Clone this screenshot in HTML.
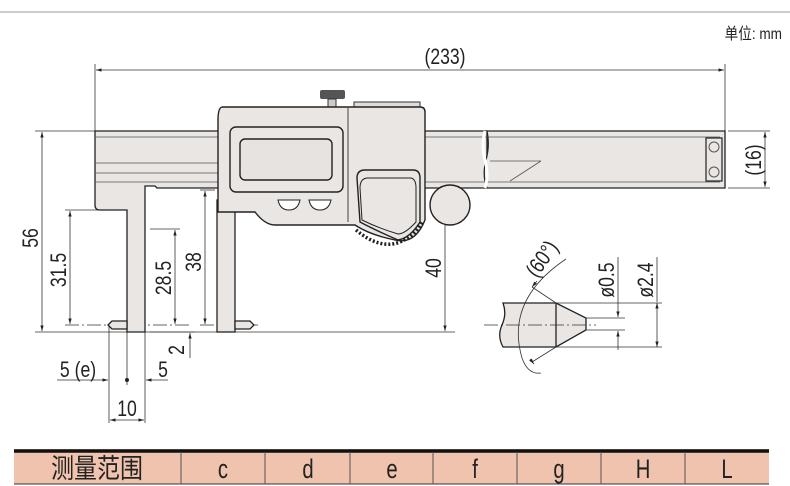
<!DOCTYPE html>
<html><head><meta charset="utf-8"><style>
html,body{margin:0;padding:0;background:#fff;}
svg{display:block;}
text{font-family:"Liberation Sans","Noto Sans CJK SC",sans-serif;fill:#222;}
</style></head><body>
<svg width="790" height="486" viewBox="0 0 790 486" xmlns="http://www.w3.org/2000/svg">
<defs>
<marker id="a" viewBox="0 0 10 10" refX="10" refY="5" markerWidth="7" markerHeight="7" orient="auto-start-reverse"><path d="M0,2 L10,5 L0,8 z" fill="#222"/></marker>
</defs>
<line x1="0" y1="12" x2="790" y2="12" stroke="#bbb" stroke-width="1.5"/>
<text transform="translate(782,39) scale(0.85,1)" font-size="16" text-anchor="end">单位: mm</text>

<g stroke="#333" stroke-width="0.8" fill="none">
<line x1="95" y1="64" x2="95" y2="131"/><line x1="725" y1="64" x2="725" y2="131"/>
<line x1="96" y1="70" x2="724" y2="70" marker-start="url(#a)" marker-end="url(#a)"/>
<line x1="35" y1="131" x2="95" y2="131"/>
<line x1="35" y1="332" x2="455" y2="332"/>
<line x1="65" y1="210" x2="127" y2="210"/>
<line x1="65" y1="325" x2="190" y2="325" stroke-dasharray="14,3,2,3"/>
<line x1="150" y1="229" x2="180" y2="229"/>
<line x1="200" y1="190" x2="215" y2="190"/>
<line x1="200" y1="325" x2="260" y2="325" stroke-dasharray="14,3,2,3"/>
<line x1="42" y1="132" x2="42" y2="331" marker-start="url(#a)" marker-end="url(#a)"/>
<line x1="70" y1="211" x2="70" y2="324" marker-start="url(#a)" marker-end="url(#a)"/>
<line x1="175" y1="230" x2="175" y2="324" marker-start="url(#a)" marker-end="url(#a)"/>
<line x1="205" y1="191" x2="205" y2="324" marker-start="url(#a)" marker-end="url(#a)"/>
<line x1="445" y1="192" x2="445" y2="331" marker-start="url(#a)" marker-end="url(#a)"/>
<line x1="728" y1="131" x2="770" y2="131"/><line x1="728" y1="188" x2="770" y2="188"/>
<line x1="765" y1="132" x2="765" y2="187" marker-start="url(#a)" marker-end="url(#a)"/>
<line x1="109" y1="326" x2="109" y2="423"/><line x1="127" y1="332" x2="127" y2="385"/><line x1="145" y1="332" x2="145" y2="423"/>
<line x1="57" y1="380" x2="108" y2="380" marker-end="url(#a)"/>
<line x1="168" y1="380" x2="146" y2="380" marker-end="url(#a)"/>
<line x1="110" y1="420" x2="144" y2="420" marker-start="url(#a)" marker-end="url(#a)"/>
<line x1="190" y1="358" x2="190" y2="333" marker-end="url(#a)"/>
<line x1="150" y1="332" x2="195" y2="332"/>
</g>
<circle cx="127" cy="380" r="2" fill="#222"/>

<g stroke="#222" stroke-width="1.3" fill="#e9e6e4">
<path d="M95,131 H487 V188 H157 L155,186 H145 V332 H127 V210 H100 Q95,210 95,205 Z"/>
<path d="M108,325 L112,321 H127 V329 H112 Z"/>
<rect x="217" y="200" width="18" height="132"/>
<path d="M235,321 H250 L254,325 L250,329 H235 Z"/>
<path d="M487,131 H725 V188 H487 Q482,175 486,160 Q490,145 487,131 Z"/>
</g>
<g stroke="#555" stroke-width="0.8" fill="none">
<line x1="95" y1="137" x2="720" y2="137"/><line x1="95" y1="163" x2="218" y2="163"/>
<line x1="95" y1="173" x2="218" y2="173"/><line x1="95" y1="182" x2="720" y2="182"/>
<line x1="490" y1="161" x2="541" y2="161"/><line x1="510" y1="181" x2="541" y2="161"/>
</g>
<rect x="706" y="138" width="16" height="43" fill="#e9e6e4" stroke="#222" stroke-width="1.2"/>
<circle cx="714" cy="147" r="5" fill="none" stroke="#555"/><circle cx="714" cy="172" r="5" fill="none" stroke="#555"/>
<path d="M485,131 Q481,145 485,160 Q489,175 485,188" stroke="#fff" stroke-width="3" fill="none"/>

<rect x="320" y="90" width="25" height="9" rx="2" fill="#555"/>
<rect x="328" y="99" width="8" height="8" fill="#ccc" stroke="#333"/>
<rect x="354" y="102" width="66" height="8" fill="#ddd" stroke="#333"/>
<path d="M222,107 H420 Q425,107 425,112 V220 Q415,245 395,240 Q370,235 355,225 H275 Q265,225 255,212 H218 V120 Q218,108 222,107 Z" fill="#e9e6e4" stroke="#222" stroke-width="1.4"/>
<path d="M348,108 V222" stroke="#444" fill="none"/>
<rect x="230" y="127" width="113" height="65" rx="6" fill="#e9e6e4" stroke="#222" stroke-width="1.4"/>
<rect x="240" y="139" width="92" height="41" rx="5" fill="#e6e3e1" stroke="#222" stroke-width="1.4"/>
<path d="M278,200 H300 Q298,210 289,210 Q280,210 278,200 Z M309,200 H331 Q329,210 320,210 Q311,210 309,200 Z" fill="#fff" stroke="#222"/>
<path d="M357,178 Q357,170 365,170 H413 Q420,170 420,178 V222 Q410,238 398,240 Q375,230 360,222 Z" fill="#e9e6e4" stroke="#222" stroke-width="1.4"/>
<path d="M360,188 Q360,178 368,178 H410 Q416,178 416,188 V222 Q405,234 398,234 Q378,228 362,220 Z" fill="#e9e6e4" stroke="#222" stroke-width="1"/>
<path d="M356,230 Q380,250 400,242 Q415,236 422,222" stroke="#222" stroke-width="3.5" stroke-dasharray="2,2" fill="none"/>
<circle cx="450" cy="205" r="20" fill="#e9e6e4" stroke="#222" stroke-width="1.4"/>

<path d="M503,303 H556 L586,318 V330 L556,347 H503 Q497,336 502,325 Q507,314 503,303 Z" fill="#e9e6e4" stroke="#222" stroke-width="1.3"/>
<line x1="556" y1="303" x2="556" y2="347" stroke="#222" stroke-width="1.3"/>
<g stroke="#333" stroke-width="0.8" fill="none">
<line x1="484" y1="325" x2="596" y2="325" stroke-dasharray="14,3,2,3"/>
<line x1="586" y1="318" x2="625" y2="318"/><line x1="586" y1="330" x2="625" y2="330"/>
<line x1="556" y1="303" x2="662" y2="303"/><line x1="556" y1="347" x2="662" y2="347"/>
<line x1="618" y1="257" x2="618" y2="317" marker-end="url(#a)"/>
<line x1="618" y1="350" x2="618" y2="331" marker-end="url(#a)"/>
<line x1="657" y1="257" x2="657" y2="302"/>
<line x1="657" y1="303" x2="657" y2="347" marker-start="url(#a)" marker-end="url(#a)"/>
<line x1="556" y1="303" x2="532" y2="287"/><line x1="556" y1="347" x2="532" y2="362"/>
<path d="M566,259 Q505,300 522,358 Q528,375 541,373"/>
<path d="M537,281 L532,287" marker-end="url(#a)"/>
<path d="M530,359 L534,364" marker-end="url(#a)"/>
</g>

<g font-size="22" text-anchor="middle">
<text transform="translate(445,64) scale(0.8,1)">(233)</text>
<text transform="translate(38,238) rotate(-90) scale(0.8,1)">56</text>
<text transform="translate(66,270) rotate(-90) scale(0.8,1)">31.5</text>
<text transform="translate(171,278) rotate(-90) scale(0.8,1)">28.5</text>
<text transform="translate(201,262) rotate(-90) scale(0.8,1)">38</text>
<text transform="translate(441,268) rotate(-90) scale(0.8,1)">40</text>
<text transform="translate(761,160) rotate(-90) scale(0.8,1)">(16)</text>
<text transform="translate(614,280) rotate(-90) scale(0.8,1)">ø0.5</text>
<text transform="translate(653,280) rotate(-90) scale(0.8,1)">ø2.4</text>
<text transform="translate(548,263) rotate(-55) scale(0.8,1)">(60°)</text>
<text transform="translate(184,350) rotate(-90) scale(0.8,1)">2</text>
<text transform="translate(78,377) scale(0.8,1)">5 (e)</text>
<text transform="translate(163,377) scale(0.8,1)">5</text>
<text transform="translate(127,416) scale(0.8,1)">10</text>
</g>

<rect x="14" y="449" width="755" height="35" fill="#efc3ad"/>
<line x1="14" y1="451" x2="769" y2="451" stroke="#111" stroke-width="3.5"/>
<line x1="14" y1="484" x2="769" y2="484" stroke="#333" stroke-width="1"/>
<g stroke="#555" stroke-width="1">
<line x1="181" y1="452" x2="181" y2="484"/><line x1="265" y1="452" x2="265" y2="484"/>
<line x1="350" y1="452" x2="350" y2="484"/><line x1="433" y1="452" x2="433" y2="484"/>
<line x1="517" y1="452" x2="517" y2="484"/><line x1="601" y1="452" x2="601" y2="484"/>
<line x1="685" y1="452" x2="685" y2="484"/>
</g>
<g font-size="27" text-anchor="middle">
<text transform="translate(97,478) scale(0.85,1)">测量范围</text>
<text transform="translate(223,478) scale(0.75,1)">c</text><text transform="translate(308,478) scale(0.75,1)">d</text><text transform="translate(392,478) scale(0.75,1)">e</text>
<text transform="translate(475,478) scale(0.75,1)">f</text><text transform="translate(559,478) scale(0.75,1)">g</text><text transform="translate(643,478) scale(0.75,1)">H</text><text transform="translate(727,478) scale(0.75,1)">L</text>
</g>
</svg>
</body></html>
